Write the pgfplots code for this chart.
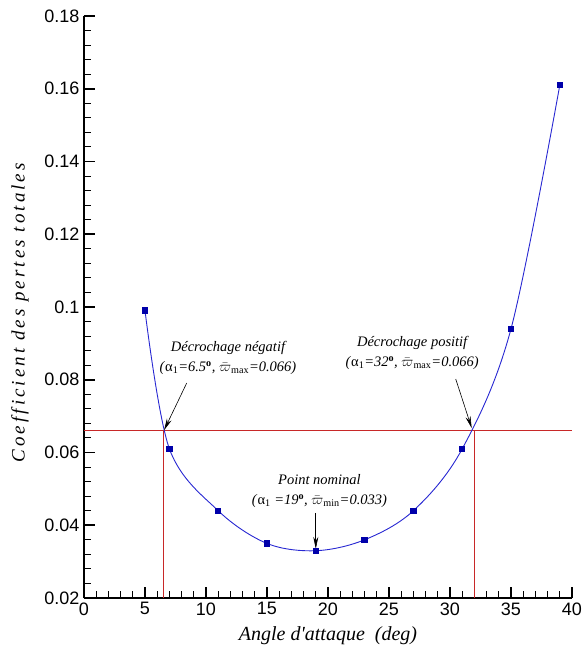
\documentclass[border=0pt]{standalone}
\usepackage{pgfplots}
\pgfplotsset{compat=1.18}
\usepackage{fontspec}
\setmainfont{Liberation Serif}
\newfontfamily\arialfont{Liberation Sans}
\newfontfamily\spacedserif[LetterSpace=16]{Liberation Serif}
\usetikzlibrary{arrows.meta}

\definecolor{curveblue}{RGB}{40,40,210}
\definecolor{markblue}{RGB}{0,0,170}
\definecolor{limred}{RGB}{200,40,40}

\newcommand{\annfont}{\fontsize{14.5}{20}\selectfont\itshape}
\newcommand{\wbar}{$\bar{\varpi}$}

\begin{document}
\begin{tikzpicture}
\useasboundingbox (-84pt,-55pt) rectangle (498pt,598pt);
\begin{axis}[
  scale only axis,
  width=488pt, height=582pt,
  at={(0,0)}, anchor=south west,
  xmin=0, xmax=40, ymin=0.02, ymax=0.18,
  axis lines*=left,
  axis line style={line width=1.8pt},
  xtick={0,5,...,40},
  minor x tick num=4,
  ytick={0.02,0.04,...,0.18},
  yticklabels={0.02,0.04,0.06,0.08,0.1,0.12,0.14,0.16,0.18},
  scaled y ticks=false,
  minor y tick num=4,
  tick align=inside,
  major tick length=11pt,
  minor tick length=7pt,
  major tick style={line width=1.8pt, black},
  minor tick style={line width=0.9pt, black},
  /pgf/number format/assume math mode=true,
  tick label style={font=\arialfont\fontsize{18}{20}\selectfont},
  xticklabel style={yshift=-1pt},
  yticklabel style={xshift=-1pt},
  xlabel={Angle d\textquotesingle attaque\ \ (deg)},
  ylabel={Coefficient des pertes totales},
  x label style={font=\fontsize{20}{22}\selectfont\itshape,
    at={(axis description cs:0.5,-0.065)}, anchor=center},
  y label style={font=\spacedserif\fontsize{19}{22}\selectfont\itshape,
    at={(axis description cs:-0.131,0.49)}, anchor=center},
  clip=false,
]
% stall limit and its two crossings
\addplot [limred, line width=1pt] coordinates {(0,0.066) (40,0.066)};
\addplot [limred, line width=0.5pt] coordinates {(6.5,0.02) (6.5,0.066)};
\addplot [limred, line width=0.5pt] coordinates {(32,0.02) (32,0.066)};

% total loss coefficient versus incidence
\addplot [curveblue, line width=0.9pt, smooth, tension=0.55,
  mark=square*, mark size=2.7pt,
  mark options={fill=markblue, draw=markblue, solid}]
  coordinates {
  (5,0.099) (7,0.061) (11,0.044) (15,0.035) (19,0.033)
  (23,0.036) (27,0.044) (31,0.061) (35,0.094) (39,0.161)
  };

% annotations
\node[align=center, font=\annfont] at (axis cs:11.8,0.086)
  {Décrochage négatif\\(\textup{α}\textsubscript{\upshape 1}=6.5\textsuperscript{\upshape\bfseries o}, \wbar\textsubscript{\upshape max}=0.066)};
\node[align=center, font=\annfont] at (axis cs:26.9,0.0874)
  {Décrochage positif\\(\textup{α}\textsubscript{\upshape 1}=32\textsuperscript{\upshape\bfseries o}, \wbar\textsubscript{\upshape max}=0.066)};
\node[align=center, font=\annfont] at (axis cs:19.3,0.0494)
  {Point nominal\\(\textup{α}\textsubscript{\upshape 1} =19\textsuperscript{\upshape\bfseries o}, \wbar\textsubscript{\upshape min}=0.033)};

\draw[line width=0.6pt, -{Stealth[length=12pt,width=5pt]}]
  (axis cs:8.42,0.0791) -- (axis cs:6.56,0.0661);
\draw[line width=0.6pt, -{Stealth[length=12pt,width=5pt]}]
  (axis cs:30.47,0.0802) -- (axis cs:31.78,0.0667);
\draw[line width=0.6pt, -{Stealth[length=12pt,width=5pt]}]
  (axis cs:19,0.0434) -- (axis cs:19,0.0335);
\end{axis}
\end{tikzpicture}
\end{document}
